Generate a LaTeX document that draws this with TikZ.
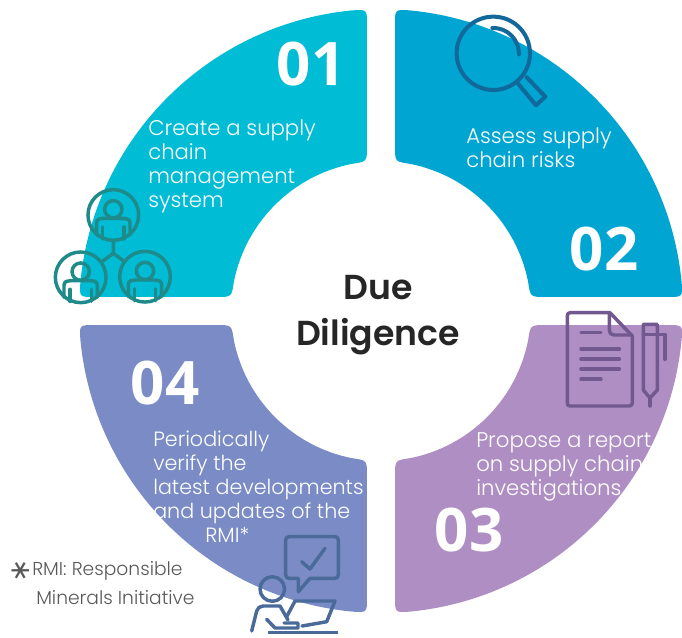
\documentclass[tikz,border=0pt]{standalone}
\usepackage{fontspec}
\usetikzlibrary{calc}
\setmainfont{Poppins}[UprightFont=* Light,BoldFont=* SemiBold]
\newfontfamily\numfont{Open Sans}
\newfontfamily\symfont{DejaVu Sans}
\definecolor{qa}{RGB}{0,188,212}
\definecolor{qb}{RGB}{0,165,210}
\definecolor{qc}{RGB}{175,143,195}
\definecolor{qd}{RGB}{122,139,198}
\definecolor{ica}{RGB}{31,138,138}
\definecolor{icb}{RGB}{17,104,154}
\definecolor{icc}{RGB}{113,89,143}
\definecolor{icd}{RGB}{74,106,154}
\tikzset{
  numlabel/.style={inner sep=0pt,text=white,font=\numfont\bfseries\fontsize{45}{50}\selectfont},
  bodytext/.style={inner sep=0pt,anchor=north west,align=left,text=white,font=\fontsize{15.9}{18}\selectfont},
  bodytextnarrow/.style={inner sep=0pt,anchor=north west,align=left,text=white,font=\fontsize{15.5}{18}\selectfont},
  titletext/.style={inner sep=0pt,text=black!85,font=\bfseries\fontsize{26}{34.5}\selectfont,align=center},
  notetext/.style={inner sep=0pt,anchor=north west,align=left,text=black!65,font=\fontsize{14}{21.75}\selectfont},
  iconline/.style={line width=2.6pt,line cap=round,line join=round},
  ring/.style={circle,draw=ica,line width=2.6pt,minimum size=38pt,inner sep=0pt}
}
% petal drawn in the upper-left quadrant, rotated around the centre
\newcommand{\petal}[2]{%
  \fill[#2,shift={(381,311)},rotate=#1]
    (92.66:226.5pt) coordinate (A) (177.34:226.5pt) coordinate (B)
    (174.63:112.5pt) coordinate (C) (95.37:112.5pt) coordinate (D)
    (95.5:226.5pt) arc[start angle=95.5,end angle=174.5,radius=226.5pt]
    .. controls (B) .. ($(B)!11.25pt!(C)$)
    -- ($(C)!11.25pt!(B)$) .. controls (C) .. (168.9:112.5pt)
    arc[start angle=168.9,end angle=101.1,radius=112.5pt]
    .. controls (D) .. ($(D)!11.25pt!(A)$)
    -- ($(A)!11.25pt!(D)$) .. controls (A) .. cycle;}
\newcommand{\person}[2]{%
  \begin{scope}[shift={(#1,#2)}]
    \draw[iconline,draw=ica] (0,-5.7) circle[radius=6.5pt];
    \draw[iconline,draw=ica] (-16.7,20) -- (-16.7,8) .. controls (-16.7,4) and (-13,3.3) .. (-10,3.3)
      -- (10,3.3) .. controls (13,3.3) and (16.7,4) .. (16.7,8) -- (16.7,20);
    \draw[iconline,draw=ica] (-10.7,12) -- (-10.7,24);
    \draw[iconline,draw=ica] (10.7,12) -- (10.7,24);
  \end{scope}}
\begin{document}
\begin{tikzpicture}[x=0.75pt,y=-0.75pt]
\useasboundingbox (0,0) rectangle (682,637);
\petal{0}{qa}
\petal{-90}{qb}
\petal{180}{qc}
\petal{90}{qd}

\node[numlabel] (n1) at (311,64) {01};
\node[numlabel] (n2) at (604,249) {02};
\node[numlabel] (n3) at (469,530) {03};
\node[numlabel] (n4) at (165,383) {04};

\node[bodytext] (t1) at (148,120) {Create a supply\\chain\\management\\system};
\node[bodytext] (t2) at (466,128) {Assess supply\\chain risks};
\node[bodytext] (t3) at (476,432) {Propose a report\\on supply chain\\investigations};
\node[bodytextnarrow] (t4) at (153,431) {Periodically\\verify the\\latest developments\\and updates of the\\\hspace{39pt}RMI*};
\node[titletext] (title) at (378,315.5) {Due\\Diligence};

\node[inner sep=0pt,rotate=90,text=black!65,font=\symfont\fontsize{21}{21}\selectfont] (star) at (21,571) {∗};
\node[notetext] (note) at (32,561) {RMI: Responsible\\\hspace{3pt}Minerals Initiative};

% people icon
\node[ring] (p1) at (113.3,215) {};
\node[ring] (p2) at (80.7,277.3) {};
\node[ring] (p3) at (145,276.7) {};
\coordinate (hub) at (113.3,253.3);
\draw[iconline,draw=ica] (p1) -- (hub) (p2) -- (hub) (p3) -- (hub);
\person{113.3}{215}
\person{80.7}{277.3}
\person{145}{276.7}

% magnifier
\draw[iconline,draw=icb,line width=3pt] (493.3,53.3) circle[radius=27.5pt];
\draw[iconline,draw=icb,line width=3pt] (492.3,28) .. controls (508,27.5) and (519,40) .. (519,54.3);
\draw[iconline,draw=icb,line width=3pt] (517.3,82.7) -- (536,105.3) -- (545.3,96.7) -- (526.7,77.3);

% document and pen
\draw[iconline,draw=icc] (570,312.7) -- (610,312.7) -- (632.3,336) -- (632.3,403) .. controls (632.3,405) and (631,406) .. (629,406)
  -- (570,406) .. controls (568,406) and (567.3,405) .. (567.3,403) -- (567.3,316) .. controls (567.3,314) and (568,312.7) .. (570,312.7);
\draw[iconline,draw=icc] (609.3,313) -- (609.3,330) .. controls (609.3,333) and (611,335) .. (614,335) -- (632,335);
\foreach \yy/\xx in {332.3/601,349/619.3,359/619.3,369/619.3,379/601}
  \draw[iconline,draw=icc] (581,\yy) -- (\xx,\yy);
\draw[iconline,draw=icc] (643.3,390) -- (643.3,324.3) -- (657.3,324.3) -- (657.3,390) -- (650,398) -- cycle;
\draw[iconline,draw=icc] (650,398) -- (650,406);
\draw[iconline,draw=icc] (643.3,334.3) -- (665,334.3) -- (665,359.3);

% person at laptop
\draw[iconline,draw=icd] (289,536.7) -- (335,536.7) .. controls (337.3,536.7) and (338.3,538) .. (338.3,540) -- (338.3,575) .. controls (338.3,577) and (337.3,578.3) .. (335,578.3)
  -- (310,578.3) -- (298.3,591.7) -- (298.3,578.3) -- (289,578.3) .. controls (287,578.3) and (285.7,577) .. (285.7,575) -- (285.7,540) .. controls (285.7,538) and (287,536.7) .. (289,536.7) -- cycle;
\draw[iconline,draw=icd] (301.7,561.7) -- (310,569) -- (325,548.3);
\draw[iconline,draw=icd] (272.3,589) circle[radius=9.2pt];
\draw[iconline,draw=icd] (251.7,631) -- (256.7,611) .. controls (257.5,608) and (260,606) .. (263,606) -- (280,606) -- (288,620);
\draw[iconline,draw=icd] (266.7,619.3) -- (275,628) -- (298,628) -- (298,623) -- (284,623);
\draw[iconline,draw=icd] (286.7,616.7) -- (295,601) -- (335,601) -- (326.7,621.7) -- (302,626);
\draw[iconline,draw=icd,line cap=butt] (268.3,632.5) -- (338.3,632.5);
\end{tikzpicture}
\end{document}
